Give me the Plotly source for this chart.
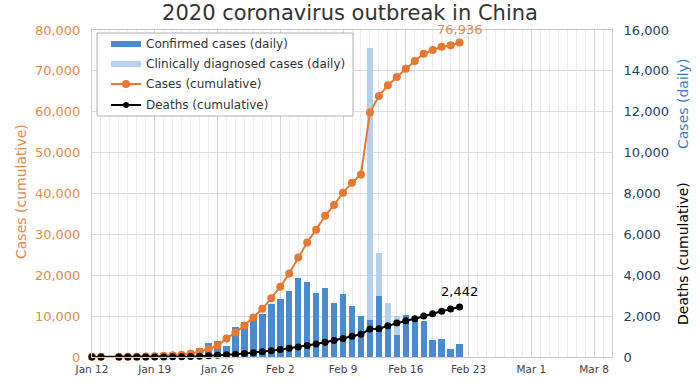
import plotly.graph_objects as go

# ---------------- data ----------------
cum_dates = ["2020-01-12", "2020-01-13", "2020-01-15", "2020-01-16", "2020-01-17", "2020-01-18",
             "2020-01-19", "2020-01-20", "2020-01-21", "2020-01-22", "2020-01-23", "2020-01-24",
             "2020-01-25", "2020-01-26", "2020-01-27", "2020-01-28", "2020-01-29", "2020-01-30",
             "2020-01-31", "2020-02-01", "2020-02-02", "2020-02-03", "2020-02-04", "2020-02-05",
             "2020-02-06", "2020-02-07", "2020-02-08", "2020-02-09", "2020-02-10", "2020-02-11",
             "2020-02-12", "2020-02-13", "2020-02-14", "2020-02-15", "2020-02-16", "2020-02-17",
             "2020-02-18", "2020-02-19", "2020-02-20", "2020-02-21", "2020-02-22"]
cum_cases = [41, 41, 41, 45, 62, 121, 198, 291, 440, 571, 830, 1287, 1975, 2744, 4515, 5974,
             7711, 9692, 11791, 14380, 17205, 20438, 24324, 28018, 31161, 34546, 37198, 40171,
             42638, 44653, 59804, 63851, 66492, 68500, 70548, 72436, 74185, 75077, 75900,
             76288, 76936]
cum_deaths = [1, 1, 2, 2, 2, 3, 4, 6, 9, 17, 25, 41, 56, 80, 106, 132, 170, 213, 259, 304, 361,
              425, 490, 563, 636, 722, 811, 908, 1016, 1113, 1367, 1380, 1523, 1665, 1770, 1868,
              2004, 2118, 2236, 2345, 2442]

daily_dates = ["2020-01-16", "2020-01-17", "2020-01-18", "2020-01-19", "2020-01-20", "2020-01-21",
               "2020-01-22", "2020-01-23", "2020-01-24", "2020-01-25", "2020-01-26", "2020-01-27",
               "2020-01-28", "2020-01-29", "2020-01-30", "2020-01-31", "2020-02-01", "2020-02-02",
               "2020-02-03", "2020-02-04", "2020-02-05", "2020-02-06", "2020-02-07", "2020-02-08",
               "2020-02-09", "2020-02-10", "2020-02-11", "2020-02-12", "2020-02-13", "2020-02-14",
               "2020-02-15", "2020-02-16", "2020-02-17", "2020-02-18", "2020-02-19", "2020-02-20",
               "2020-02-21", "2020-02-22"]
daily_confirmed = [4, 17, 59, 77, 77, 149, 131, 259, 444, 688, 769, 515, 1459, 1737, 1982, 2102,
                   2590, 2829, 3235, 3887, 3694, 3143, 3399, 2656, 3062, 2478, 2015, 1790, 2990,
                   1520, 1080, 2050, 1890, 1750, 820, 890, 397, 648]
daily_clinical = [0] * 27 + [13332, 2100, 1130, 930, 0, 0, 0, 0, 0, 0, 0]

x_ticks = ["2020-01-12", "2020-01-19", "2020-01-26", "2020-02-02", "2020-02-09", "2020-02-16",
           "2020-02-23", "2020-03-01", "2020-03-08"]
x_ticklabels = ["Jan 12", "Jan 19", "Jan 26", "Feb 2", "Feb 9", "Feb 16", "Feb 23", "Mar 1", "Mar 8"]
left_ticks = [0, 10000, 20000, 30000, 40000, 50000, 60000, 70000, 80000]
right_ticks = [0, 2000, 4000, 6000, 8000, 10000, 12000, 14000, 16000]

legend_labels = ["Confirmed cases (daily)", "Clinically diagnosed cases (daily)",
                 "Cases (cumulative)", "Deaths (cumulative)"]

# ---------------- style ----------------
FONT = "DejaVu Sans"
C_CONF = "#4a8bd0"
C_CLIN = "#b3d1ee"
C_ORANGE = "#e8782f"
C_ORANGE_TXT = "#e08a4a"
C_RIGHT = "#24405e"
C_DAILY_TITLE = "#3b7dbf"
W, H = 700, 381
L, R, T, B = 92, 88, 30, 24
PW, PH = W - L - R, H - T - B

def px(xp):
    return (xp - L) / PW

def py(yp):
    return (H - B - yp) / PH

DAY = 86400000

fig = go.Figure()
fig.add_trace(go.Bar(x=daily_dates, y=daily_confirmed, marker=dict(color=C_CONF, line=dict(width=0)),
                     width=0.72 * DAY, yaxis="y", showlegend=False))
fig.add_trace(go.Bar(x=daily_dates, y=daily_clinical, marker=dict(color=C_CLIN, line=dict(width=0)),
                     width=0.72 * DAY, yaxis="y", showlegend=False))
fig.add_trace(go.Scatter(x=cum_dates, y=cum_cases, mode="lines+markers", yaxis="y2",
                         line=dict(color=C_ORANGE, width=2), marker=dict(color=C_ORANGE, size=8),
                         cliponaxis=False, showlegend=False))
fig.add_trace(go.Scatter(x=cum_dates, y=cum_deaths, mode="lines+markers", yaxis="y3",
                         line=dict(color="black", width=2), marker=dict(color="black", size=7),
                         cliponaxis=False, showlegend=False))

fig.update_layout(
    width=W, height=H, margin=dict(l=L, r=R, t=T, b=B, autoexpand=False),
    paper_bgcolor="white", plot_bgcolor="white",
    font=dict(family=FONT, color="#333333"),
    barmode="stack", bargap=0,
    showlegend=False,
    title=dict(text="2020 coronavirus outbreak in China", x=0.5, xanchor="center",
               y=1 - 12.5 / H, yanchor="middle", font=dict(size=21, color="#333333")),
    xaxis=dict(type="date", range=["2020-01-12", "2020-03-10"],
               tickvals=x_ticks, ticktext=x_ticklabels,
               tickfont=dict(size=10.5, color="#444444"),
               ticks="outside", ticklen=2, tickcolor="rgba(0,0,0,0)",
               showgrid=True, gridcolor="#d4d4d4", gridwidth=1,
               minor=dict(dtick=DAY, tick0="2020-01-12", showgrid=True, gridcolor="#ececec", gridwidth=1),
               showline=True, linecolor="#cccccc", mirror=True, zeroline=False, automargin=False),
    yaxis=dict(side="right", range=[0, 16000], tickvals=right_ticks,
               ticktext=[f"{v:,}" for v in right_ticks],
               tickfont=dict(size=13, color=C_RIGHT),
               ticks="outside", ticklen=8, tickcolor="rgba(0,0,0,0)",
               showgrid=True, gridcolor="#dcdcdc", zeroline=False,
               showline=True, linecolor="#cccccc", automargin=False),
    yaxis2=dict(side="left", overlaying="y", range=[0, 80000], tickvals=left_ticks,
                ticktext=[f"{v:,}" for v in left_ticks],
                tickfont=dict(size=13, color=C_ORANGE_TXT),
                ticks="outside", ticklen=8, tickcolor="rgba(0,0,0,0)",
                showgrid=False, zeroline=False, showline=True, linecolor="#cccccc", automargin=False),
    yaxis3=dict(overlaying="y", range=[0, 16000], visible=False),
)

annotations = [
    dict(x="2020-02-22", y=cum_cases[-1], xref="x", yref="y2", text=f"{cum_cases[-1]:,}",
         xanchor="center", yanchor="middle", borderpad=0,
         showarrow=False, yshift=13, font=dict(size=13, color=C_ORANGE_TXT)),
    dict(x="2020-02-22", y=cum_deaths[-1], xref="x", yref="y3", text=f"{cum_deaths[-1]:,}",
         xanchor="center", yanchor="middle",
         showarrow=False, yshift=16, font=dict(size=13, color="black")),
    dict(x=px(21), y=py(192), xref="paper", yref="paper", text="Cases (cumulative)",
         xanchor="center", yanchor="middle",
         textangle=-90, showarrow=False, font=dict(size=14, color=C_ORANGE_TXT)),
    dict(x=px(683), y=py(104), xref="paper", yref="paper", text="Cases (daily)",
         xanchor="center", yanchor="middle",
         textangle=-90, showarrow=False, font=dict(size=14, color=C_DAILY_TITLE)),
    dict(x=px(683), y=py(254), xref="paper", yref="paper", text="Deaths (cumulative)",
         xanchor="center", yanchor="middle",
         textangle=-90, showarrow=False, font=dict(size=14, color="black")),
]

# manual legend
shapes = [dict(type="rect", xref="paper", yref="paper", x0=px(97), x1=px(353), y0=py(116), y1=py(33),
               fillcolor="white", line=dict(color="#b0b0b0", width=1), layer="above")]
rows = [44, 64, 84, 105]
shapes.append(dict(type="rect", xref="paper", yref="paper", x0=px(111), x1=px(141),
                   y0=py(rows[0] + 3), y1=py(rows[0] - 3), fillcolor=C_CONF, line=dict(width=0), layer="above"))
shapes.append(dict(type="rect", xref="paper", yref="paper", x0=px(111), x1=px(141),
                   y0=py(rows[1] + 3), y1=py(rows[1] - 3), fillcolor=C_CLIN, line=dict(width=0), layer="above"))
for row, col, r in [(rows[2], C_ORANGE, 4), (rows[3], "black", 3)]:
    shapes.append(dict(type="line", xref="paper", yref="paper", x0=px(111), x1=px(141),
                       y0=py(row), y1=py(row), line=dict(color=col, width=2), layer="above"))
    shapes.append(dict(type="circle", xref="paper", yref="paper", x0=px(126 - r), x1=px(126 + r),
                       y0=py(row + r), y1=py(row - r), fillcolor=col, line=dict(width=0), layer="above"))
for row, lab in zip(rows, legend_labels):
    annotations.append(dict(x=px(144), y=py(row), xref="paper", yref="paper", text=lab,
                            xanchor="left", yanchor="middle", showarrow=False,
                            font=dict(size=12, color="#333333")))

fig.update_layout(shapes=shapes, annotations=annotations)
fig.write_html("out.html", config={"displayModeBar": False},
               post_script="document.body.style.margin='0px';document.body.style.overflow='hidden';")
